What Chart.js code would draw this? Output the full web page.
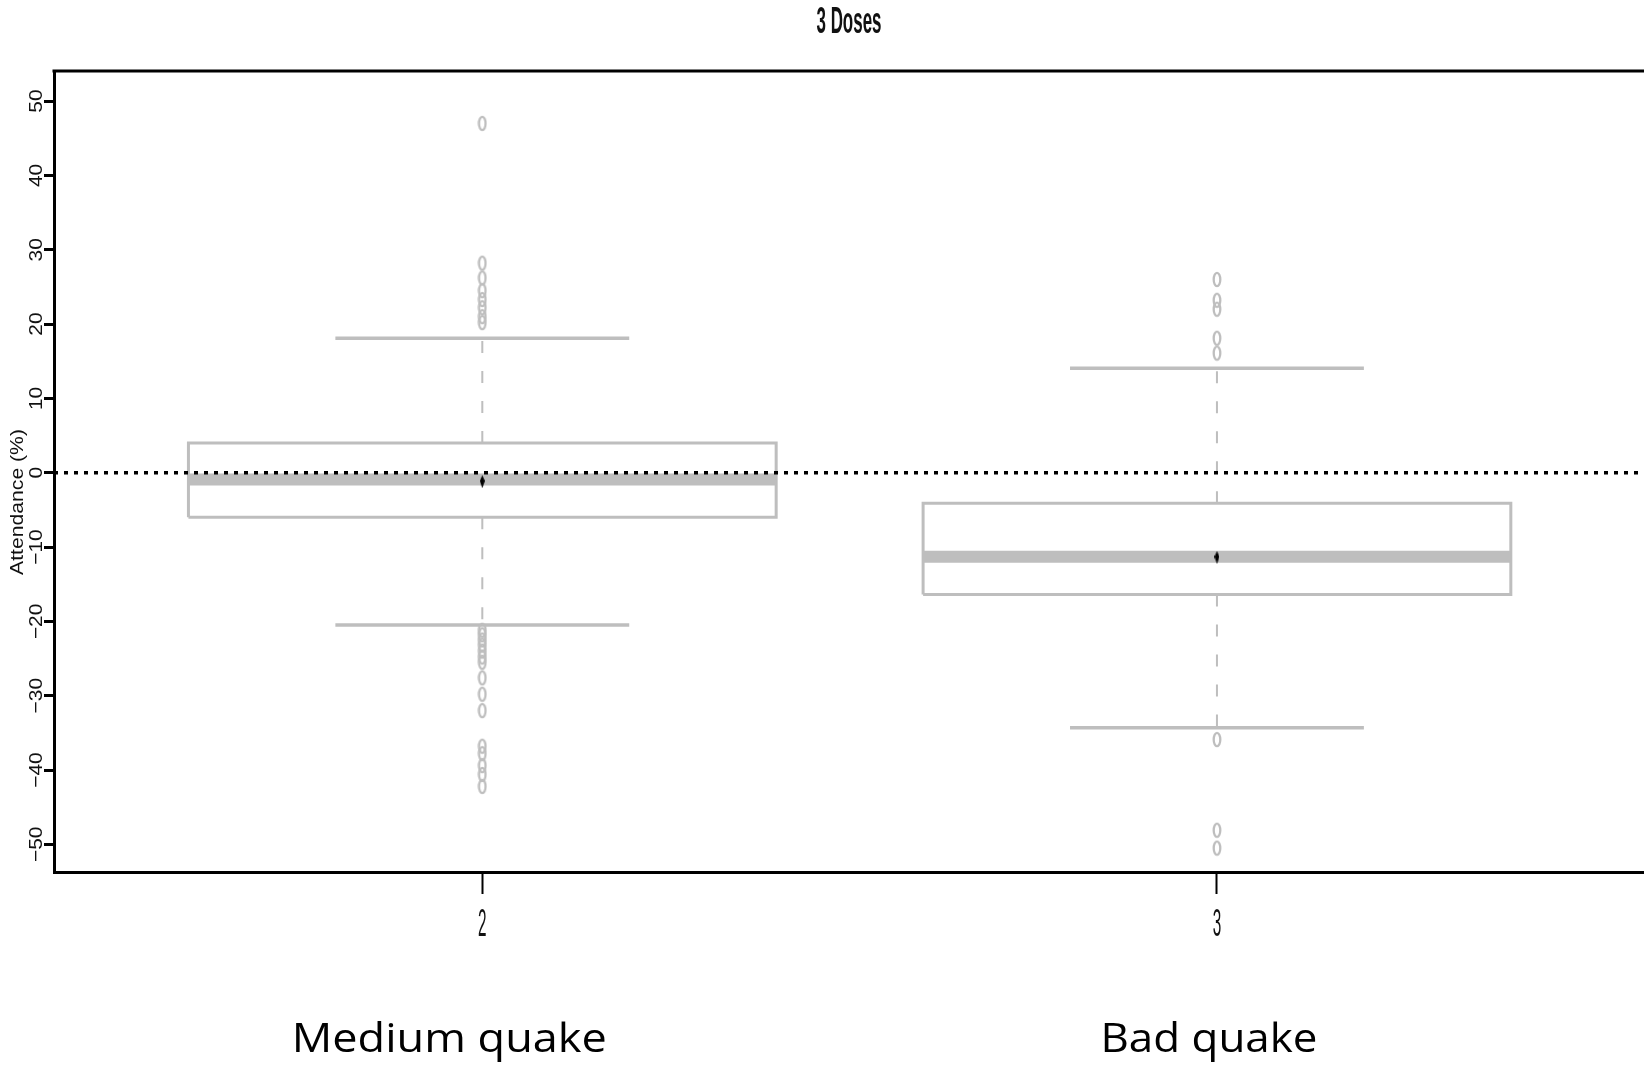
<!DOCTYPE html>
<html>
<head>
<meta charset="utf-8">
<title>3 Doses</title>
<script src="https://cdn.jsdelivr.net/npm/chart.js@4.4.1/dist/chart.umd.min.js"></script>
<style>
  html, body { margin: 0; padding: 0; background: #fff; overflow: hidden; }
  #wrap { width: 1644px; height: 1066px; overflow: hidden; position: relative; }
</style>
</head>
<body>
<div id="wrap"><canvas id="boxChart" width="1652" height="1066"></canvas></div>
<script>
// values
const categories = ['2', '3'];
const groupNames = ['Medium quake', 'Bad quake'];
const lowerQuartile = [-6.0, -16.4];
const upperQuartile = [4.0, -4.1];
const medians = [-0.9, -11.3];
const means = [-1.2, -11.4];
const whiskerLow = [-20.5, -34.3];
const whiskerHigh = [18.1, 14.05];
const outliersMedium = [47.0, 28.2, 26.2, 24.5, 23.3, 22.2, 21.0, 20.2,
    -21.2, -21.8, -22.5, -23.2, -24.0, -24.8, -25.5, -27.6, -29.8, -32.0,
    -36.8, -37.8, -39.4, -40.6, -42.2];
const outliersBad = [26.0, 23.2, 22.0, 18.1, 16.1, -35.9, -48.1, -50.5];
const outliers = [outliersMedium, outliersBad];
const yTicks = [-50, -40, -30, -20, -10, 0, 10, 20, 30, 40, 50];
const referenceLine = 0;

// styling
const GREY = '#bebebe';
const BOX_HALF = 0.4;
const CAP_HALF = 0.2;
const X_MIN = 0.417, X_MAX = 2.584;
const Y_MIN = -53.72, Y_MAX = 54.05;
const groupNameOffset = [-33, -8];
const groupNameWidth = [315, 217];

function makeMarker(w, h, draw) {
    const c = document.createElement('canvas');
    c.width = w;
    c.height = h;
    draw(c.getContext('2d'), w, h);
    return c;
}

const ringMarker = makeMarker(10, 17, function(ctx, w, h) {
    ctx.strokeStyle = GREY;
    ctx.lineWidth = 2.3;
    ctx.beginPath();
    ctx.ellipse(w / 2, h / 2, 3.3, 6.6, 0, 0, Math.PI * 2);
    ctx.stroke();
});

const meanMarker = makeMarker(5, 13, function(ctx, w, h) {
    ctx.fillStyle = '#000';
    ctx.beginPath();
    ctx.moveTo(w / 2, 0);
    ctx.lineTo(w, h * 0.45);
    ctx.lineTo(w / 2, h);
    ctx.lineTo(0, h * 0.45);
    ctx.closePath();
    ctx.fill();
});

const datasets = [];
function segment(points, style) {
    datasets.push(Object.assign({
        data: points,
        showLine: true,
        pointRadius: 0,
        fill: false,
        borderCapStyle: 'butt'
    }, style));
}

categories.forEach(function(cat, i) {
    const x = i + 1;
    // box
    segment([
        { x: x - BOX_HALF, y: lowerQuartile[i] },
        { x: x + BOX_HALF, y: lowerQuartile[i] },
        { x: x + BOX_HALF, y: upperQuartile[i] },
        { x: x - BOX_HALF, y: upperQuartile[i] },
        { x: x - BOX_HALF, y: lowerQuartile[i] }
    ], { borderColor: GREY, borderWidth: 3, order: 4 });
    // median band
    segment([
        { x: x - BOX_HALF, y: medians[i] },
        { x: x + BOX_HALF, y: medians[i] }
    ], { borderColor: GREY, borderWidth: 12, order: 3 });
    // whiskers
    segment([{ x: x, y: upperQuartile[i] }, { x: x, y: whiskerHigh[i] }],
        { borderColor: GREY, borderWidth: 2, borderDash: [12, 18], order: 5 });
    segment([{ x: x, y: lowerQuartile[i] }, { x: x, y: whiskerLow[i] }],
        { borderColor: GREY, borderWidth: 2, borderDash: [12, 18], order: 5 });
    // caps
    segment([{ x: x - CAP_HALF, y: whiskerHigh[i] }, { x: x + CAP_HALF, y: whiskerHigh[i] }],
        { borderColor: GREY, borderWidth: 3.5, order: 4 });
    segment([{ x: x - CAP_HALF, y: whiskerLow[i] }, { x: x + CAP_HALF, y: whiskerLow[i] }],
        { borderColor: GREY, borderWidth: 3.5, order: 4 });
    // outliers
    datasets.push({
        data: outliers[i].map(function(v) { return { x: x, y: v }; }),
        showLine: false,
        pointStyle: ringMarker,
        pointRadius: 5,
        order: 2
    });
    // mean
    datasets.push({
        data: [{ x: x, y: means[i] }],
        showLine: false,
        pointStyle: meanMarker,
        pointRadius: 5,
        order: 0
    });
});

// dotted reference line at zero
segment([{ x: X_MIN, y: referenceLine }, { x: X_MAX, y: referenceLine }],
    { borderColor: '#000', borderWidth: 3.5, borderDash: [4, 6], order: 1 });

function drawText(ctx, text, o) {
    ctx.save();
    ctx.translate(o.x, o.y);
    if (o.rotate) ctx.rotate(o.rotate);
    ctx.font = o.font;
    ctx.fillStyle = o.color || '#000';
    ctx.textAlign = 'center';
    ctx.textBaseline = 'alphabetic';
    let sx = o.sx || 1;
    if (o.width) sx = o.width / ctx.measureText(text).width;
    ctx.scale(sx, 1);
    ctx.fillText(text, 0, 0);
    ctx.restore();
}

const textPlugin = {
    id: 'textPlugin',
    afterDraw: function(chart) {
        const ctx = chart.ctx;
        const area = chart.chartArea;
        const xs = chart.scales.x;
        const ys = chart.scales.y;

        // top frame line
        ctx.save();
        ctx.strokeStyle = '#000';
        ctx.lineWidth = 3;
        ctx.beginPath();
        ctx.moveTo(area.left - 1.5, area.top);
        ctx.lineTo(area.right, area.top);
        ctx.stroke();
        ctx.restore();

        // y tick labels, parallel to the axis
        yTicks.forEach(function(v) {
            const label = v < 0 ? '\u2212' + Math.abs(v) : String(v);
            drawText(ctx, label, {
                x: 41.5, y: ys.getPixelForValue(v), rotate: -Math.PI / 2,
                font: '19px "Liberation Sans", Arial, sans-serif', sx: 1.1, color: '#111'
            });
        });

        // y axis title
        drawText(ctx, 'Attendance (%)', {
            x: 22.5, y: area.top + 431, rotate: -Math.PI / 2,
            font: '19px "Liberation Sans", Arial, sans-serif', width: 146, color: '#111'
        });

        // x tick labels
        categories.forEach(function(cat, i) {
            drawText(ctx, cat, {
                x: xs.getPixelForValue(i + 1), y: area.bottom + 64,
                font: '38px "Liberation Sans", Arial, sans-serif', width: 8.5, color: '#111'
            });
        });

        // title
        drawText(ctx, '3 Doses', {
            x: 849, y: 33,
            font: 'bold 37px "Liberation Sans", Arial, sans-serif', width: 65, color: '#111'
        });

        // group names under the axis
        groupNames.forEach(function(name, i) {
            drawText(ctx, name, {
                x: xs.getPixelForValue(i + 1) + groupNameOffset[i], y: 1052,
                font: '40px "Open Sans", "Noto Sans", sans-serif',
                width: groupNameWidth[i], color: '#000'
            });
        });
    }
};

const ctx = document.getElementById('boxChart').getContext('2d');
new Chart(ctx, {
    type: 'scatter',
    data: { datasets: datasets },
    options: {
        responsive: false,
        animation: false,
        events: [],
        layout: { padding: { top: 71, left: 0, right: 2, bottom: 0 } },
        plugins: {
            legend: { display: false },
            title: { display: false },
            tooltip: { enabled: false }
        },
        scales: {
            x: {
                type: 'linear',
                min: X_MIN,
                max: X_MAX,
                afterBuildTicks: function(scale) {
                    scale.ticks = categories.map(function(c, i) { return { value: i + 1 }; });
                },
                afterFit: function(scale) { scale.height = 194; },
                ticks: { display: false },
                grid: {
                    drawOnChartArea: false,
                    drawTicks: true,
                    tickLength: 22,
                    tickColor: '#000',
                    tickWidth: 2
                },
                border: { display: true, color: '#000', width: 3 }
            },
            y: {
                type: 'linear',
                min: Y_MIN,
                max: Y_MAX,
                afterBuildTicks: function(scale) {
                    scale.ticks = yTicks.map(function(v) { return { value: v }; });
                },
                afterFit: function(scale) { scale.width = 54; },
                ticks: { display: false },
                grid: {
                    drawOnChartArea: false,
                    drawTicks: true,
                    tickLength: 10,
                    tickColor: '#000',
                    tickWidth: 3
                },
                border: { display: true, color: '#000', width: 3 }
            }
        }
    },
    plugins: [textPlugin]
});
</script>
</body>
</html>
